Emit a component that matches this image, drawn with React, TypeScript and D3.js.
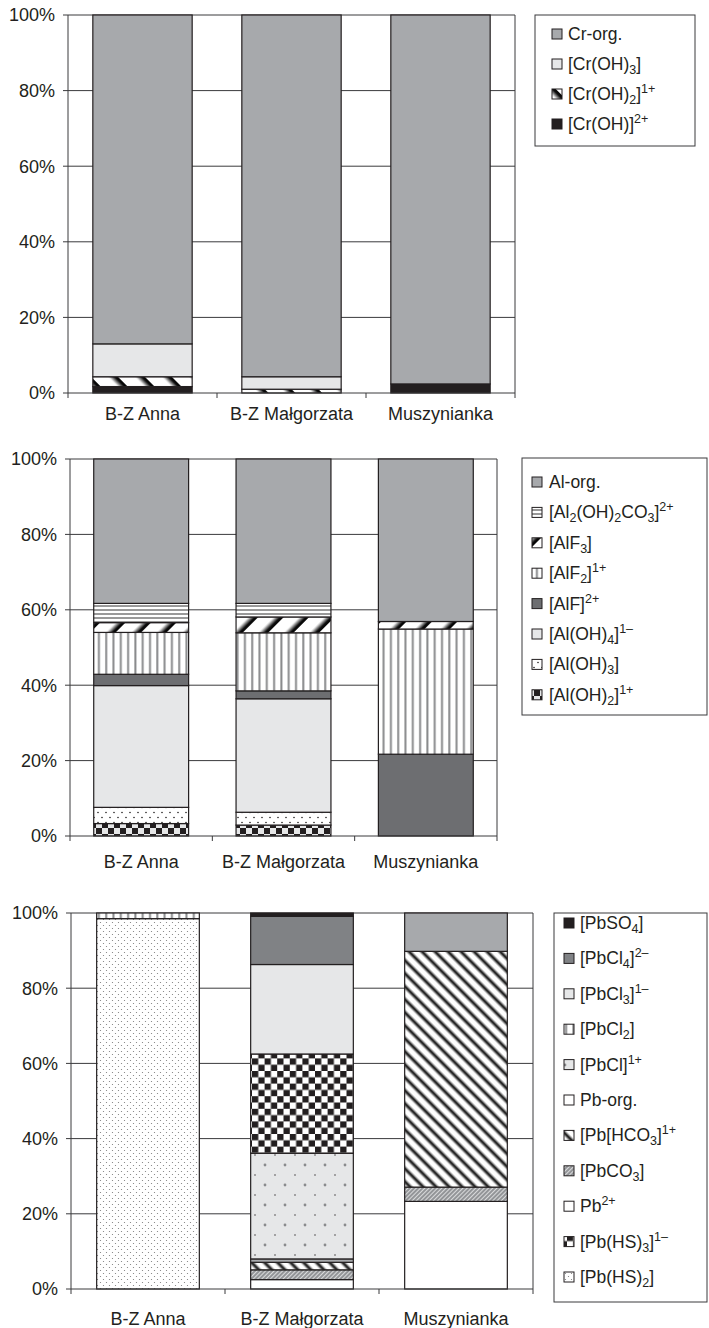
import React from "react";
import * as d3 from "d3";

const categories = ["B-Z Anna", "B-Z Małgorzata", "Muszynianka"];
const percentTicks = [0, 20, 40, 60, 80, 100];

// chromium species, % per category
const crOH = [1.7, 0, 2.4];
const crOH2 = [2.6, 1.0, 0];
const crOH3 = [8.7, 3.3, 0];
const crOrg = [87.0, 95.7, 97.6];

// aluminium species
const alOH2 = [3.3, 2.9, 0];
const alOH3 = [4.3, 3.4, 0];
const alOH4 = [32.3, 30.1, 0];
const alF = [3.0, 2.1, 21.7];
const alF2 = [11.1, 15.4, 33.2];
const alF3 = [2.6, 4.2, 2.0];
const al2CO3 = [5.1, 3.6, 0];
const alOrg = [38.3, 38.3, 43.1];

// lead species
const pbHS2 = [98.5, 0, 0];
const pbHS3 = [0, 26.4, 0];
const pb2 = [0, 2.5, 23.3];
const pbCO3 = [0, 2.6, 3.8];
const pbHCO3 = [0, 2.0, 62.7];
const pbOrg = [0, 0.9, 10.2];
const pbCl = [0, 28.1, 0];
const pbCl2 = [1.5, 0, 0];
const pbCl3 = [0, 23.8, 0];
const pbCl4 = [0, 12.8, 0];
const pbSO4 = [0, 0.9, 0];

const FONT = "'Liberation Sans', Arial, Helvetica, sans-serif";
const INK = "#231f20";
const GRID = "#3a3a3c";

type Series = { key: string; label: string; fill: string; swatch?: string; values: number[] };

const crChart = {
  top: 15, bottom: 393, left: 68, right: 515, labelY: 420,
  legend: { x: 535, y: 15, w: 160, h: 131, first: 34, step: 30, sx: 552, tx: 568 },
  series: [
    { key: "crOH", label: "[Cr(OH)]^{2+}", fill: INK, values: crOH },
    { key: "crOH2", label: "[Cr(OH)_{2}]^{1+}", fill: "url(#pDiagWideBack)", values: crOH2 },
    { key: "crOH3", label: "[Cr(OH)_{3}]", fill: "#e6e7e8", values: crOH3 },
    { key: "crOrg", label: "Cr-org.", fill: "#a7a9ac", values: crOrg },
  ] as Series[],
  stackOrder: ["crOH", "crOH2", "crOH3", "crOrg"],
  legendOrder: ["crOrg", "crOH3", "crOH2", "crOH"],
};

const alChart = {
  top: 459, bottom: 836, left: 70, right: 497, labelY: 868,
  legend: { x: 522, y: 458, w: 185, h: 257, first: 482, step: 30.4, sx: 532, tx: 549 },
  series: [
    { key: "alOH2", label: "[Al(OH)_{2}]^{1+}", fill: "url(#pCheckAl)", values: alOH2 },
    { key: "alOH3", label: "[Al(OH)_{3}]", fill: "url(#pDotsAl)", values: alOH3 },
    { key: "alOH4", label: "[Al(OH)_{4}]^{1–}", fill: "#e6e7e8", values: alOH4 },
    { key: "alF", label: "[AlF]^{2+}", fill: "#6d6e71", values: alF },
    { key: "alF2", label: "[AlF_{2}]^{1+}", fill: "url(#pVStripe)", values: alF2 },
    { key: "alF3", label: "[AlF_{3}]", fill: "url(#pDiagWideFwd)", values: alF3 },
    { key: "al2CO3", label: "[Al_{2}(OH)_{2}CO_{3}]^{2+}", fill: "url(#pHStripe)", values: al2CO3 },
    { key: "alOrg", label: "Al-org.", fill: "#a7a9ac", values: alOrg },
  ] as Series[],
  stackOrder: ["alOH2", "alOH3", "alOH4", "alF", "alF2", "alF3", "al2CO3", "alOrg"],
  legendOrder: ["alOrg", "al2CO3", "alF3", "alF2", "alF", "alOH4", "alOH3", "alOH2"],
};

const pbChart = {
  top: 913, bottom: 1289, left: 71, right: 533, labelY: 1325,
  legend: { x: 554, y: 913, w: 153, h: 389, first: 923, step: 35.4, sx: 564, tx: 580 },
  series: [
    { key: "pbHS2", label: "[Pb(HS)_{2}]", fill: "url(#pDotsPb)", values: pbHS2 },
    { key: "pbHS3", label: "[Pb(HS)_{3}]^{1–}", fill: "url(#pCheckPb)", values: pbHS3 },
    { key: "pb2", label: "Pb^{2+}", fill: "#ffffff", values: pb2 },
    { key: "pbCO3", label: "[PbCO_{3}]", fill: "url(#pFineHatch)", values: pbCO3 },
    { key: "pbHCO3", label: "[Pb[HCO_{3}]^{1+}", fill: "url(#pDiagBack)", values: pbHCO3 },
    { key: "pbOrg", label: "Pb-org.", fill: "#a7a9ac", swatch: "#ffffff", values: pbOrg },
    { key: "pbCl", label: "[PbCl]^{1+}", fill: "url(#pDotsGray)", values: pbCl },
    { key: "pbCl2", label: "[PbCl_{2}]", fill: "url(#pVStripe)", values: pbCl2 },
    { key: "pbCl3", label: "[PbCl_{3}]^{1–}", fill: "#e6e7e8", values: pbCl3 },
    { key: "pbCl4", label: "[PbCl_{4}]^{2–}", fill: "#808285", values: pbCl4 },
    { key: "pbSO4", label: "[PbSO_{4}]", fill: INK, values: pbSO4 },
  ] as Series[],
  stackOrder: ["pbHS2", "pb2", "pbCO3", "pbHCO3", "pbOrg", "pbCl", "pbHS3", "pbCl2", "pbCl3", "pbCl4", "pbSO4"],
  legendOrder: ["pbSO4", "pbCl4", "pbCl3", "pbCl2", "pbCl", "pbOrg", "pbHCO3", "pbCO3", "pb2", "pbHS3", "pbHS2"],
};

// "_{x}" subscript, "^{x}" superscript
function RichText({ x, y, markup, size, small }: { x: number; y: number; markup: string; size: number; small: number }) {
  const parts = markup.split(/(_\{[^}]*\}|\^\{[^}]*\})/).filter(Boolean);
  let shift = 0;
  return (
    <text x={x} y={y} fontFamily={FONT} fontSize={size} fill={INK}>
      {parts.map((p, i) => {
        let target = 0;
        let text = p;
        let fs = size;
        if (p.startsWith("_{")) { target = 4; text = p.slice(2, -1); fs = small; }
        else if (p.startsWith("^{")) { target = -7; text = p.slice(2, -1); fs = small; }
        const dy = target - shift;
        shift = target;
        return <tspan key={i} dy={dy} fontSize={fs}>{text}</tspan>;
      })}
    </text>
  );
}

function Patterns() {
  return (
    <defs>
      <linearGradient id="gHard" x1="0" x2="1" y1="0" y2="0">
        <stop offset="0" stopColor="#fff" />
        <stop offset="0.7" stopColor="#000" />
        <stop offset="1" stopColor="#111" />
      </linearGradient>
      <linearGradient id="gSoft" x1="0" x2="1" y1="0" y2="0">
        <stop offset="0" stopColor="#fff" />
        <stop offset="0.5" stopColor="#000" />
        <stop offset="1" stopColor="#fff" />
      </linearGradient>
      <pattern id="pDiagWideBack" patternUnits="userSpaceOnUse" width="19" height="19" patternTransform="rotate(-45)">
        <rect width="19" height="19" fill="#fff" />
        <rect width="7" height="19" fill="url(#gHard)" />
      </pattern>
      <pattern id="pDiagWideFwd" patternUnits="userSpaceOnUse" width="18" height="18" patternTransform="rotate(45)">
        <rect width="18" height="18" fill="#fff" />
        <rect width="7" height="18" fill="url(#gHard)" />
      </pattern>
      <pattern id="pDiagBack" patternUnits="userSpaceOnUse" width="9.2" height="9.2" patternTransform="rotate(-45)">
        <rect width="9.2" height="9.2" fill="#fff" />
        <rect width="5.5" height="9.2" fill="url(#gSoft)" />
      </pattern>
      <pattern id="pVStripe" patternUnits="userSpaceOnUse" width="7.3" height="10">
        <rect width="7.3" height="10" fill="#fff" />
        <rect x="3" width="2" height="10" fill="#8a8b8d" />
      </pattern>
      <pattern id="pHStripe" patternUnits="userSpaceOnUse" width="10" height="4">
        <rect width="10" height="4" fill="#fff" />
        <rect y="1.5" width="10" height="1" fill="#333" />
      </pattern>
      <pattern id="pDotsAl" patternUnits="userSpaceOnUse" width="8" height="10">
        <rect width="8" height="10" fill="#fff" />
        <circle cx="2" cy="2.5" r="0.8" fill={INK} />
        <circle cx="6" cy="7.5" r="0.8" fill={INK} />
      </pattern>
      <pattern id="pCheckAl" patternUnits="userSpaceOnUse" width="12" height="12">
        <rect width="12" height="12" fill="#e6e7e8" />
        <rect width="6" height="6" fill={INK} />
        <rect x="6" y="6" width="6" height="6" fill={INK} />
      </pattern>
      <pattern id="pCheckPb" patternUnits="userSpaceOnUse" width="12.6" height="12.6">
        <rect width="12.6" height="12.6" fill="#fff" />
        <rect width="6.3" height="6.3" fill={INK} />
        <rect x="6.3" y="6.3" width="6.3" height="6.3" fill={INK} />
      </pattern>
      <pattern id="pFineHatch" patternUnits="userSpaceOnUse" width="3" height="3" patternTransform="rotate(45)">
        <rect width="3" height="3" fill="#939598" />
        <rect width="1" height="3" fill="#d9dadb" />
      </pattern>
      <pattern id="pDotsGray" patternUnits="userSpaceOnUse" width="20" height="20">
        <rect width="20" height="20" fill="#e6e7e8" />
        <circle cx="5" cy="5" r="1.4" fill="#8a8b8d" />
        <rect x="14.3" y="14.5" width="1.4" height="1" fill={INK} />
      </pattern>
      <pattern id="pDotsPb" patternUnits="userSpaceOnUse" width="6" height="6">
        <rect width="6" height="6" fill="#fff" />
        <circle cx="1.5" cy="1.5" r="0.6" fill="#7a7a7a" />
        <circle cx="4.5" cy="4.5" r="0.6" fill="#7a7a7a" />
      </pattern>
    </defs>
  );
}

function StackedPanel({ cfg }: { cfg: typeof crChart }) {
  const x = d3.scaleBand<string>().domain(categories).range([cfg.left, cfg.right]).paddingInner(1 / 3).paddingOuter(1 / 6);
  const y = d3.scaleLinear().domain([0, 100]).range([cfg.bottom, cfg.top]);
  const byKey = new Map(cfg.series.map((s) => [s.key, s]));
  const rows = categories.map((c, i) => {
    const r: any = { cat: c };
    cfg.series.forEach((s) => (r[s.key] = s.values[i]));
    return r;
  });
  const layers = d3.stack<any>().keys(cfg.stackOrder)(rows);
  const edges = d3.range(categories.length + 1).map((i) => cfg.left + i * x.step());
  const lg = cfg.legend;

  return (
    <g>
      {percentTicks.filter((t) => t > 0).map((t) => (
        <line key={t} x1={cfg.left} x2={cfg.right} y1={y(t)} y2={y(t)} stroke={GRID} strokeWidth={1} />
      ))}
      <line x1={cfg.right} x2={cfg.right} y1={cfg.top} y2={cfg.bottom} stroke={GRID} strokeWidth={1} />
      {layers.map((layer) =>
        layer.map((d, i) =>
          d[1] - d[0] > 0 ? (
            <rect key={layer.key + i} x={x(categories[i])} width={x.bandwidth()} y={y(d[1])} height={y(d[0]) - y(d[1])}
              fill={byKey.get(layer.key)!.fill} stroke={INK} strokeWidth={1.2} />
          ) : null
        )
      )}
      <line x1={cfg.left} x2={cfg.left} y1={cfg.top} y2={cfg.bottom} stroke={GRID} strokeWidth={1} />
      <line x1={cfg.left} x2={cfg.right} y1={cfg.bottom} y2={cfg.bottom} stroke={GRID} strokeWidth={1} />
      {percentTicks.map((t) => (
        <g key={t}>
          <line x1={cfg.left - 5} x2={cfg.left} y1={y(t)} y2={y(t)} stroke={GRID} />
          <text x={cfg.left - 13} y={y(t)} dy="0.35em" textAnchor="end" fontFamily={FONT} fontSize={18} fill={INK}>
            {t}%
          </text>
        </g>
      ))}
      {edges.map((e, i) => (
        <line key={i} x1={e} x2={e} y1={cfg.bottom} y2={cfg.bottom + 5} stroke={GRID} />
      ))}
      {categories.map((c) => (
        <text key={c} x={x(c)! + x.bandwidth() / 2} y={cfg.labelY} textAnchor="middle" fontFamily={FONT} fontSize={18} fill={INK}>
          {c}
        </text>
      ))}
      <rect x={lg.x} y={lg.y} width={lg.w} height={lg.h} fill="#fff" stroke={GRID} strokeWidth={1} />
      {cfg.legendOrder.map((k, i) => {
        const s = byKey.get(k)!;
        const cy = lg.first + i * lg.step;
        return (
          <g key={k}>
            <rect x={lg.sx} y={cy - 5} width={10} height={10} fill={s.swatch || s.fill} stroke={INK} strokeWidth={1} />
            <RichText x={lg.tx} y={cy + 6} markup={s.label} size={17.5} small={12.5} />
          </g>
        );
      })}
    </g>
  );
}

export default function App() {
  return (
    <svg width={709} height={1328} style={{ position: "absolute", left: 0, top: 0, background: "#fff" }}>
      <Patterns />
      <rect width={709} height={1328} fill="#fff" />
      <StackedPanel cfg={crChart} />
      <StackedPanel cfg={alChart} />
      <StackedPanel cfg={pbChart} />
    </svg>
  );
}
